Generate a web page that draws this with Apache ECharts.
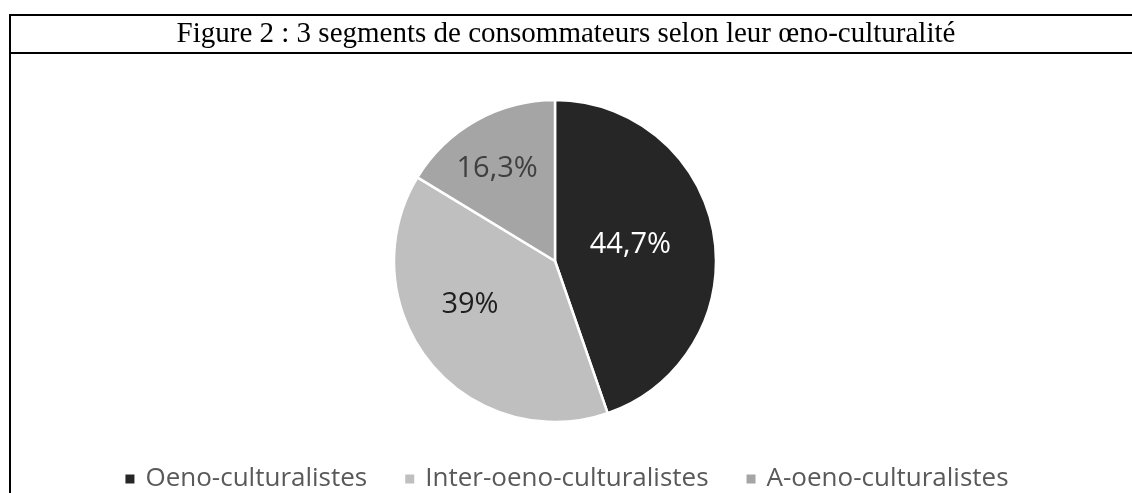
<!DOCTYPE html>
<html>
<head>
<meta charset="utf-8">
<script src="https://cdn.jsdelivr.net/npm/echarts@6/dist/echarts.min.js"></script>
<style>
  html, body { margin: 0; padding: 0; background: #fff; }
  #chart { width: 1132px; height: 493px; }
</style>
</head>
<body>
<div id="chart"></div>
<script>
// segments, shares in percent
const segments = ['Oeno-culturalistes', 'Inter-oeno-culturalistes', 'A-oeno-culturalistes'];
const shares = [44.7, 39, 16.3];
const titleText = 'Figure 2 : 3 segments de consommateurs selon leur œno-culturalité';

const sliceColors = ['#262626', '#bfbfbf', '#a5a5a5'];
const labelColors = ['#ffffff', '#1e1e1e', '#3f3f3f'];

var chart = echarts.init(document.getElementById('chart'));

// Excel pushes small-slice labels a bit outward
var labelShift = [[-7, -2], [-20, -9], [-17, -19]];

var option = {
    backgroundColor: '#ffffff',
    animation: false,
    title: {
        text: titleText,
        left: 'center',
        top: 15,
        textStyle: {
            fontFamily: 'Liberation Serif',
            fontWeight: 'normal',
            fontSize: 29,
            color: '#000'
        }
    },
    legend: {
        left: 'center',
        top: 461,
        itemWidth: 11,
        itemHeight: 11,
        itemGap: 36,
        icon: 'rect',
        textStyle: {
            fontFamily: 'Open Sans',
            fontSize: 26,
            color: '#595959',
            padding: [0, 0, 0, 5]
        },
        data: segments
    },
    graphic: [
        // cadre du tableau
        { type: 'line', shape: { x1: 9, y1: 15, x2: 1132, y2: 15 }, style: { stroke: '#000', lineWidth: 2 } },
        { type: 'line', shape: { x1: 9, y1: 53, x2: 1132, y2: 53 }, style: { stroke: '#000', lineWidth: 2 } },
        { type: 'line', shape: { x1: 10, y1: 14, x2: 10, y2: 493 }, style: { stroke: '#000', lineWidth: 2 } }
    ],
    series: [
        {
            type: 'pie',
            center: [555, 261],
            radius: 161,
            startAngle: 90,
            clockwise: true,
            itemStyle: {
                borderColor: '#ffffff',
                borderWidth: 2.5
            },
            label: {
                show: true,
                position: 'inside',
                fontFamily: 'Open Sans',
                fontSize: 29,
                formatter: function (p) {
                    return String(p.value).replace('.', ',') + '%';
                }
            },
            labelLine: { show: false },
            data: segments.map(function (name, i) {
                return {
                    name: name,
                    value: shares[i],
                    itemStyle: { color: sliceColors[i] },
                    label: { color: labelColors[i], offset: labelShift[i] }
                };
            })
        }
    ]
};

chart.setOption(option);
</script>
</body>
</html>
